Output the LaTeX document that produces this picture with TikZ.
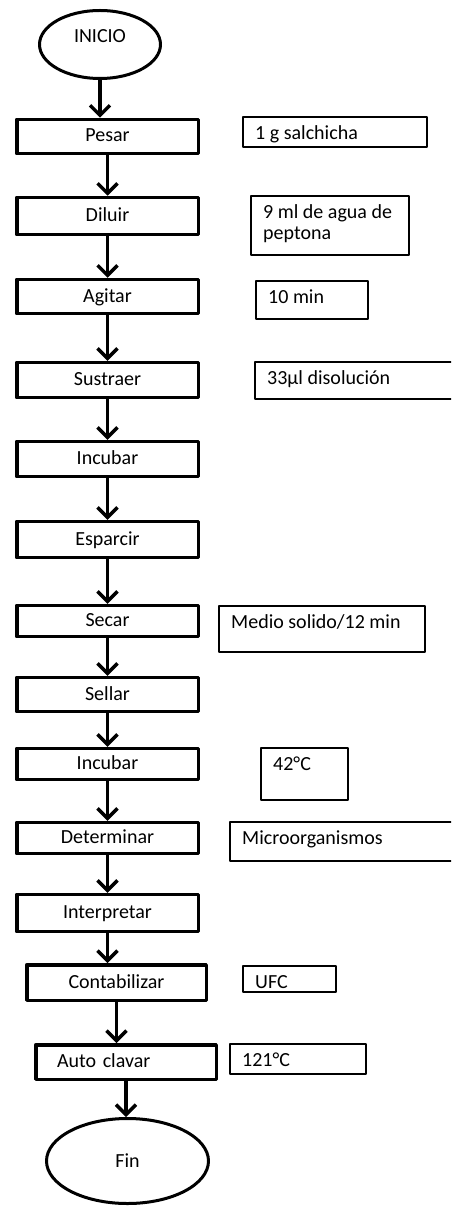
\documentclass[tikz,border=0pt]{standalone}
\usepackage{fontspec}
\setmainfont{Carlito}
\usetikzlibrary{arrows.meta,shapes.geometric}
\begin{document}
\begin{tikzpicture}[x=1pt,y=-1pt,>={Straight Barb[length=10pt,width=20pt]},font=\fontsize{20}{21}\selectfont,line join=round,
	paso/.style={draw,line width=3.5pt,minimum width=181.5pt,inner sep=0pt,text height=14pt,text depth=3pt},
	nota/.style={draw,line width=1.8pt,anchor=north west,inner sep=0pt},
	extremo/.style={draw,ellipse,line width=3pt,inner sep=0pt},
	flecha/.style={->,line width=3.5pt}]
	\useasboundingbox (0,0) rectangle (451,1206);
	\clip (0,0) rectangle (451,1206);
	\node[extremo,minimum width=121pt,minimum height=68pt,text height=10pt,text depth=13pt] (inicio) at (100,44.5) {INICIO};
	\foreach \n/\y/\h/\t in {pesar/136.5/34/Pesar, diluir/216/37/Diluir, agitar/296.5/34/Agitar, sustraer/380/35/Sustraer, incubar/459/35/Incubar, esparcir/539.5/36/Esparcir, secar/621/31/Secar, sellar/694.5/34/Sellar, incubarb/764/31/Incubar, determinar/838/31/Determinar, interpretar/913/37/Interpretar}
	\node[paso,minimum height=\h pt] (\n) at (107.5,\y) {\t};
	\node[paso,minimum width=179.5pt,minimum height=35.5pt] (contabilizar) at (116.5,982.5) {Contabilizar};
	\node[paso,minimum width=180.5pt,minimum height=34.5pt,text width=138pt,align=left] (autoclavar) at (126,1062) {Auto clavar};
	\node[extremo,minimum width=162pt,minimum height=85pt] (fin) at (127.5,1161) {Fin};
	\foreach \a/\b in {inicio/pesar, pesar/diluir, diluir/agitar, agitar/sustraer, sustraer/incubar, incubar/esparcir, esparcir/secar, secar/sellar, sellar/incubarb, incubarb/determinar, determinar/interpretar, interpretar/contabilizar, contabilizar/autoclavar, autoclavar/fin}
	\draw[flecha] (\a.south) -- (\a.south |- \b.north);
	% datos de cada paso
	\foreach \n/\x/\y/\w/\h/\t in {s1/242/116/184/30/{1 g salchicha}, s2/250/195/158/59/{9 ml de agua de\\\strut peptona}, s3/255/280/112/38/{10 min}, s4/254/361/230/37/{33µl disolución}, s5/218/605/206/46/{Medio solido/12 min}, s6/260/747/87/52/{42°C}, s7/229/821/240/39/{Microorganismos}, s8/242/965/93/26/{UFC}, s9/229/1043/136/30/{121°C}}
	{
	\node[nota,minimum width=\w pt,minimum height=\h pt] (\n) at (\x,\y) {};
	\node[anchor=north west,inner sep=0pt,align=left] (\n-t) at ([xshift=13pt,yshift=-9pt]\n.north west) {\strut\t};
	}
\end{tikzpicture}
\end{document}
